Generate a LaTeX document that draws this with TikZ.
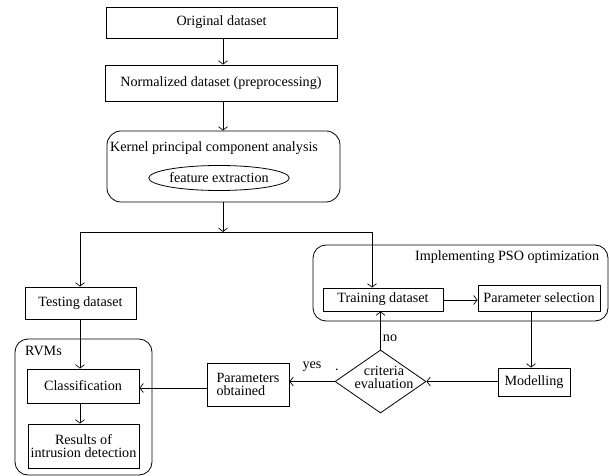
\documentclass[tikz,border=0pt]{standalone}
\usepackage{fontspec}
\setmainfont{Liberation Serif}
\usetikzlibrary{arrows.meta,shapes.geometric}
\begin{document}
\begin{tikzpicture}[x=1bp,y=-1bp,
  every node/.style={font=\fontsize{14.2}{15}\selectfont},
  box/.style={draw, line width=0.8bp, inner sep=1bp, align=center},
  grp/.style={draw, line width=0.8bp, rounded corners=13bp},
  arr/.style={line width=0.8bp, -{Straight Barb[length=3.5bp,width=9bp,line width=0.7bp]}},
  ln/.style={line width=0.8bp}]
\path[use as bounding box] (0,0) rectangle (609,476);
% top chain
\node[box, minimum width=231bp, minimum height=31bp] (orig) at (221.5,22.5) {Original dataset};
\node[box, minimum width=232bp, minimum height=36bp] (norm) at (221,83) {Normalized dataset (preprocessing)};
\node[box, rounded corners=14bp, minimum width=233bp, minimum height=71bp] (kpca) at (223.5,166.5) {};
\node[inner sep=0] (kpcat) at (214,148) {Kernel principal component analysis};
\node[draw, ellipse, line width=0.8bp, inner sep=0, minimum width=122bp, minimum height=25bp] (feat) at (219,178) {feature extraction};
\coordinate (j) at (223,232);
\coordinate (jl) at (80,232);
\coordinate (jr) at (372,232);
\draw[arr] (orig.south -| j) -- (norm.north -| j);
\draw[arr] (norm.south -| j) -- (kpca.north -| j);
\draw[arr] (kpca.south -| j) -- (j);
% groups
\draw[grp] (15,339) rectangle (152,475);
\node[anchor=west, inner sep=0] (rvmlab) at (25,351) {RVMs};
\draw[grp] (313,245) rectangle (608,321);
\node[anchor=west, inner sep=0] (psolab) at (415,257) {Implementing PSO optimization};
% left branch
\node[box, minimum width=111bp, minimum height=32bp] (test) at (80.5,303) {Testing dataset};
\node[box, minimum width=112bp, minimum height=34bp] (class) at (83,386) {Classification};
\node[box, minimum width=111bp, minimum height=44bp] (res) at (83.5,446) {Results of\\[-2bp]intrusion detection};
\node[box, minimum width=82bp, minimum height=43bp, align=left] (par) at (248,384.5) {Parameters\\[-2bp]obtained};
% right branch
\node[box, minimum width=120bp, minimum height=23bp] (train) at (383,299.5) {Training dataset};
\node[box, minimum width=122bp, minimum height=26bp] (psel) at (539,298) {Parameter selection};
\node[box, minimum width=72bp, minimum height=28bp] (mod) at (534,382) {Modelling};
\node[draw, diamond, line width=0.8bp, inner sep=0, minimum width=91bp, minimum height=63bp] (crit) at (380.5,381.5) {};
\node[inner sep=0, align=center] (critt) at (384,377) {criteria\\[-2bp]evaluation};
% connectors
\draw[ln] (jl) -- (jr);
\draw[arr] (jl) -- (test.north -| jl);
\draw[arr] (jr) -- (train.north -| jr);
\draw[arr] (test.south -| jl) -- (class.north -| jl);
\draw[arr] (class.south -| jl) -- (res.north -| jl);
\draw[arr] (train.east |- 0,300) -- (psel.west |- 0,300);
\draw[arr] (psel.south -| 531,0) -- (mod.north -| 531,0);
\draw[arr] (mod.west |- crit) -- (crit.east);
\draw[arr] (crit.north) -- (train.south -| crit.north);
\draw[arr] (crit.west) -- (par.east |- crit.west);
\draw[arr] (par.west |- 0,388) -- (class.east |- 0,388);
\node[inner sep=0] (no) at (390,338) {no};
\node[inner sep=0] (yes) at (312,367) {yes};
\node[inner sep=0] (dot) at (337,370) {.};
\end{tikzpicture}
\end{document}
